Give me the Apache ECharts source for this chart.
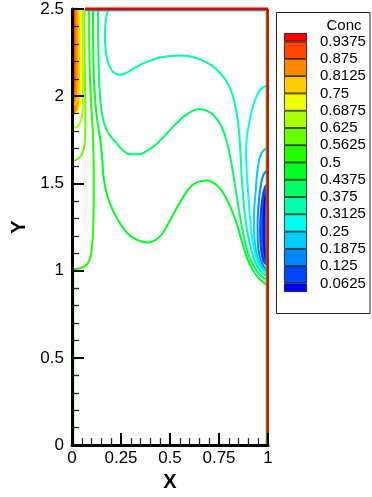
<!DOCTYPE html>
<html>
<head>
<meta charset="utf-8">
<script src="https://cdn.jsdelivr.net/npm/echarts@6/dist/echarts.min.js"></script>
<style>
html,body{margin:0;padding:0;background:#fff;}
#chart{width:372px;height:497px;}
</style>
</head>
<body>
<div id="chart"></div>
<script>
// Contour levels of the concentration field and their legend labels
const levels = [0.0625, 0.125, 0.1875, 0.25, 0.3125, 0.375, 0.4375, 0.5,
                0.5625, 0.625, 0.6875, 0.75, 0.8125, 0.875, 0.9375];
const levelLabels = ['0.0625', '0.125', '0.1875', '0.25', '0.3125', '0.375', '0.4375', '0.5',
                     '0.5625', '0.625', '0.6875', '0.75', '0.8125', '0.875', '0.9375'];
// Colour bands, lowest to highest (one more band than levels)
const bandColors = ['#0000ff', '#0044ff', '#0088ff', '#00ccff', '#00ffee', '#00ffaa', '#00ff66', '#00ff22',
                    '#22ff00', '#66ff00', '#aaff00', '#eeff00', '#ffcc00', '#ff8800', '#ff4400', '#ff0000'];
// Legend box heights: half boxes at both ends, full boxes between the levels
const bandSizes = [1, 2, 2, 2, 2, 2, 2, 2, 2, 2, 2, 2, 2, 2, 2, 1];

const xTickLabels = ['0', '0.25', '0.5', '0.75', '1'];
const yTickLabels = ['0', '0.5', '1', '1.5', '2', '2.5'];

// Contour lines, [X, Y] points
const c0625 = [[1.0,1.45],[0.99,1.43],[0.982,1.38],[0.978,1.3],[0.978,1.2],[0.982,1.12],[0.99,1.07],[1.0,1.05]];
const c125 = [[1.0,1.50],[0.985,1.48],[0.972,1.42],[0.963,1.33],[0.96,1.22],[0.965,1.12],[0.975,1.06],[0.99,1.035],[1.0,1.03]];
const c1875 = [[1.0,1.575],[0.99,1.57],[0.975,1.545],[0.962,1.48],[0.952,1.38],[0.947,1.27],[0.948,1.16],[0.958,1.08],[0.975,1.03],[0.99,1.012],[1.0,1.008]];
const c25 = [[1.0,1.70],[0.985,1.697],[0.968,1.675],[0.955,1.635],[0.945,1.56],[0.937,1.45],[0.929,1.33],[0.93,1.2],[0.94,1.11],[0.955,1.05],[0.975,1.012],[1.0,0.998]];
const c3125 = [[1.0,2.06],[0.985,2.056],[0.962,2.04],[0.942,2.0],[0.92,1.93],[0.905,1.85],[0.893,1.77],[0.888,1.7],[0.89,1.6],[0.895,1.5],[0.905,1.35],[0.915,1.22],[0.93,1.12],[0.948,1.05],[0.97,1.005],[1.0,0.985]];
const c375 = [[0.184,2.5],[0.172,2.43],[0.168,2.36],[0.17,2.29],[0.178,2.22],[0.192,2.17],[0.212,2.137],[0.24,2.123],[0.27,2.13],[0.305,2.152],[0.345,2.178],[0.39,2.2],[0.445,2.22],[0.5,2.231],[0.56,2.234],[0.615,2.225],[0.665,2.205],[0.71,2.178],[0.75,2.14],[0.785,2.09],[0.812,2.03],[0.832,1.95],[0.846,1.86],[0.855,1.76],[0.861,1.64],[0.868,1.5],[0.882,1.32],[0.898,1.2],[0.915,1.12],[0.935,1.05],[0.96,1.0],[0.985,0.975],[1.0,0.968]];
const c4375 = [[0.133,2.5],[0.134,2.3],[0.138,2.1],[0.146,1.96],[0.16,1.86],[0.18,1.8],[0.2,1.765],[0.225,1.735],[0.26,1.69],[0.3,1.667],[0.34,1.667],[0.38,1.685],[0.425,1.72],[0.47,1.77],[0.52,1.83],[0.57,1.883],[0.61,1.913],[0.645,1.925],[0.685,1.918],[0.725,1.888],[0.758,1.835],[0.782,1.77],[0.8,1.69],[0.817,1.59],[0.836,1.46],[0.857,1.31],[0.876,1.2],[0.895,1.11],[0.918,1.045],[0.945,0.995],[0.975,0.96],[1.0,0.948]];
const c5 = [[0.107,2.5],[0.108,2.3],[0.112,2.1],[0.12,1.95],[0.133,1.83],[0.146,1.74],[0.154,1.64],[0.16,1.55],[0.172,1.465],[0.192,1.39],[0.22,1.32],[0.253,1.257],[0.287,1.21],[0.322,1.182],[0.357,1.166],[0.39,1.162],[0.425,1.175],[0.46,1.21],[0.5,1.289],[0.54,1.37],[0.577,1.44],[0.612,1.488],[0.65,1.512],[0.689,1.517],[0.722,1.503],[0.752,1.475],[0.782,1.425],[0.812,1.355],[0.84,1.27],[0.867,1.166],[0.893,1.075],[0.918,1.014],[0.95,0.96],[0.985,0.925],[1.0,0.918]];
const c5625 = [[0.087,2.5],[0.088,2.3],[0.092,2.1],[0.099,1.93],[0.106,1.8],[0.109,1.7],[0.111,1.55],[0.111,1.4],[0.108,1.25],[0.1,1.12],[0.087,1.055],[0.066,1.025],[0.035,1.012],[0,1.008]];
const c625 = [[0.063,2.5],[0.064,2.3],[0.066,2.1],[0.068,1.95],[0.068,1.82],[0.065,1.735],[0.055,1.677],[0.035,1.645],[0.015,1.633],[0,1.63]];
const c6875 = [[0.052,2.5],[0.053,2.3],[0.055,2.1],[0.055,1.96],[0.05,1.88],[0.038,1.84],[0.02,1.822],[0,1.818]];
const c75 = [[0.042,2.5],[0.044,2.3],[0.045,2.1],[0.043,1.98],[0.032,1.92],[0.015,1.9],[0,1.895]];
const c8125 = [[0.032,2.5],[0.034,2.3],[0.034,2.1],[0.03,2.0],[0.015,1.955],[0,1.945]];
const c875 = [[0.022,2.5],[0.023,2.3],[0.023,2.1],[0.018,2.015],[0.008,1.985],[0,1.978]];
const c9375 = [[0.011,2.5],[0.012,2.3],[0.012,2.1],[0.008,2.02],[0,2.0]];

const contourLines = [c0625, c125, c1875, c25, c3125, c375, c4375, c5,
                      c5625, c625, c6875, c75, c8125, c875, c9375];

// Domain boundary lines
const topWall = [[0.066, 2.5], [1, 2.5]];
const topInner = [[0.066, 2.4887], [1, 2.4887]];
const rightWall = [[0.9985, 0], [0.9985, 2.5]];
const rightInner = [[0.9915, 0], [0.9915, 2.489]];
const leftInner = [[0.008, 0], [0.008, 1.008]];

const chart = echarts.init(document.getElementById('chart'), null, { renderer: 'canvas' });
const FONT = 'Liberation Sans, Arial, sans-serif';

function lineSeries(pts, color, width, clip, z, smooth) {
  return {
    type: 'line', xAxisIndex: 0, yAxisIndex: 0, data: pts,
    smooth: smooth, symbol: 'none', showSymbol: false, silent: true,
    clip: clip, z: z,
    lineStyle: { color: color, width: width }
  };
}

// Shaded high-gradient zones (filled between the wall and a contour)
function fillSeries(pts, stops) {
  return {
    type: 'custom', xAxisIndex: 0, yAxisIndex: 0, silent: true, z: 1,
    data: [[0.5, 1.25]],
    renderItem: function (params, api) {
      return {
        type: 'polygon',
        shape: { points: pts.map(function (p) { return api.coord(p); }), smooth: 0.25 },
        style: { fill: { type: 'linear', x: 0, y: 0, x2: 1, y2: 0, colorStops: stops } }
      };
    }
  };
}

const series = [];
series.push(fillSeries(c75.concat([[0, 2.5]]), [
  { offset: 0, color: '#ff3a00' }, { offset: 0.4, color: '#ff7a00' },
  { offset: 0.75, color: '#ffb400' }, { offset: 1, color: '#ffe400' }
]));
series.push(fillSeries(c125, [
  { offset: 0, color: '#2f78ff' }, { offset: 0.5, color: '#1848ff' }, { offset: 1, color: '#0818ff' }
]));
contourLines.forEach(function (pts, i) {
  series.push(lineSeries(pts, bandColors[i], 2, true, 3, 0.45));
});
series.push(lineSeries(leftInner, '#22ff00', 1.5, false, 4, false));
series.push(lineSeries(topInner, '#00dede', 1.3, false, 4, false));
series.push(lineSeries(rightInner, '#22e000', 1.3, false, 4, false));
series.push(lineSeries(topWall, '#e00000', 2.8, false, 5, false));
series.push(lineSeries(rightWall, '#e00000', 2.4, false, 5, false));

// Legend colour column as a stack of boxes
bandSizes.forEach(function (v, i) {
  series.push({
    type: 'bar', xAxisIndex: 1, yAxisIndex: 1, stack: 'legend', data: [v],
    barWidth: 23, silent: true,
    itemStyle: { color: bandColors[i], borderColor: '#111', borderWidth: 0.8 }
  });
});

const legendTickValues = levels.map(function (_, i) { return 2 * i + 1; });

const tickStyle = {
  axisLine: { lineStyle: { color: '#000', width: 3 } },
  axisTick: { inside: true, length: 12, lineStyle: { color: '#000', width: 2 } },
  minorTick: { show: true, splitNumber: 5, length: 7, lineStyle: { color: '#222', width: 1.3 } },
  splitLine: { show: false },
  minorSplitLine: { show: false }
};

chart.setOption({
  animation: false,
  backgroundColor: '#fff',
  textStyle: { fontFamily: FONT },
  grid: [
    { left: 72, top: 9, width: 196, height: 442 },
    { left: 284, top: 33, width: 23, height: 259 }
  ],
  xAxis: [
    Object.assign({
      type: 'value', gridIndex: 0, min: 0, max: 1, interval: 0.25, z: 10,
      axisLabel: { fontSize: 17, color: '#000', margin: 5, fontFamily: FONT,
        formatter: function (v) { return xTickLabels[Math.round(v / 0.25)]; } },
      name: 'X', nameLocation: 'middle', nameGap: 22,
      nameTextStyle: { fontSize: 20, fontWeight: 'bold', color: '#000', fontFamily: FONT }
    }, tickStyle),
    { type: 'category', gridIndex: 1, data: ['Conc'], show: false }
  ],
  yAxis: [
    Object.assign({
      type: 'value', gridIndex: 0, min: 0, max: 2.5, interval: 0.5, z: 10,
      axisLabel: { fontSize: 17, color: '#000', margin: 8, fontFamily: FONT,
        formatter: function (v) { return yTickLabels[Math.round(v / 0.5)]; } },
      name: 'Y', nameLocation: 'middle', nameGap: 37, nameRotate: 90,
      nameTextStyle: { fontSize: 20, fontWeight: 'bold', color: '#000', fontFamily: FONT }
    }, tickStyle),
    {
      type: 'value', gridIndex: 1, min: 0, max: 30, position: 'right',
      axisLine: { show: false }, axisTick: { show: false }, splitLine: { show: false },
      axisLabel: {
        customValues: legendTickValues, margin: 13, fontSize: 15, color: '#000', fontFamily: FONT,
        formatter: function (v) { return levelLabels[(v - 1) / 2]; }
      }
    }
  ],
  graphic: [
    { type: 'rect', z: -1, shape: { x: 276.5, y: 12.5, width: 93.5, height: 301 },
      style: { fill: '#fff', stroke: '#222', lineWidth: 1 } },
    { type: 'text', x: 344, y: 26,
      style: { text: 'Conc', fontSize: 15, fontFamily: FONT, fill: '#000', align: 'center', verticalAlign: 'middle' } }
  ],
  series: series
});
</script>
</body>
</html>
